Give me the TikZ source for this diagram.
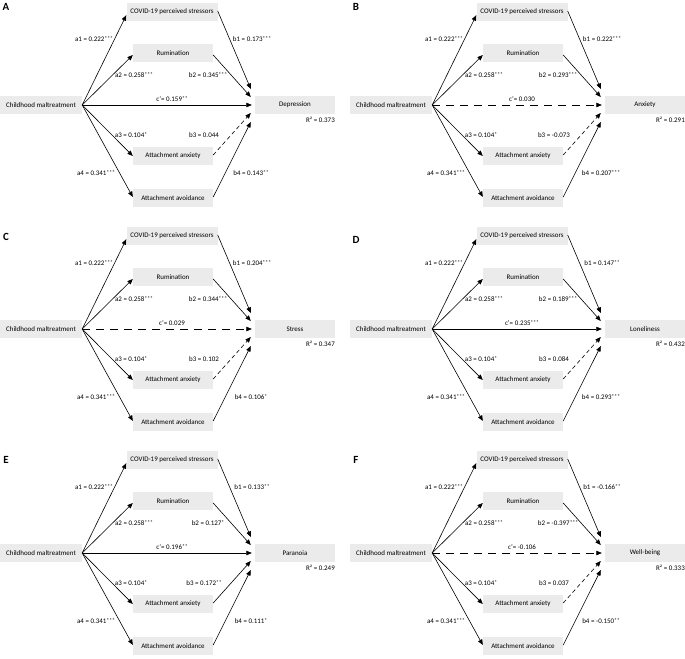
\documentclass[tikz,border=0pt]{standalone}
\usepackage{fontspec}
\setmainfont{Carlito}
\usetikzlibrary{arrows.meta}
\definecolor{boxgray}{RGB}{235,235,235}
\newcommand{\st}[1]{\raisebox{0.35ex}{\fontsize{5.6}{6}\selectfont #1}}

\tikzset{
  varbox/.style={fill=boxgray, inner sep=0pt, minimum height=18bp, minimum width=80bp, font=\fontsize{7}{8}\selectfont},
  coef/.style={inner sep=0pt, font=\fontsize{7}{8}\selectfont},
  panellbl/.style={inner sep=0pt, font=\fontsize{11}{12}\selectfont\bfseries},
  effect/.style={-{Triangle[length=5.5bp,width=4.5bp]}, line width=0.6bp},
  sigpath/.style={effect},
  nsdirect/.style={effect, dash pattern=on 8bp off 6bp},
  nsindirect/.style={effect, dash pattern=on 4bp off 3bp},
}

\begin{document}
\begin{tikzpicture}[x=1bp,y=-1bp]
\useasboundingbox (0,0) rectangle (685,659);
\foreach \offx/\offy/\lety/\lbl/\outc/\bone/\btwo/\bthree/\bfour/\cval/\rsq/\cst/\bst in {
  0/0/7/A/Depression/{0.173\st{***}}/{0.345\st{***}}/{0.044}/{0.143\st{**}}/{0.159\st{**}}/0.373/sigpath/nsindirect,
  350/0/7/B/Anxiety/{0.222\st{***}}/{0.293\st{***}}/{-0.073}/{0.207\st{***}}/{0.030}/0.291/nsdirect/nsindirect,
  0/224/13/C/Stress/{0.204\st{***}}/{0.344\st{***}}/{0.102}/{0.106\st{*}}/{0.029}/0.347/nsdirect/nsindirect,
  350/224/16/D/Loneliness/{0.147\st{**}}/{0.189\st{***}}/{0.084}/{0.293\st{***}}/{0.235\st{***}}/0.432/sigpath/nsindirect,
  0/448/12/E/Paranoia/{0.133\st{**}}/{0.127\st{*}}/{0.172\st{**}}/{0.111\st{*}}/{0.196\st{**}}/0.249/sigpath/sigpath,
  350/448/12/F/Well-being/{-0.166\st{**}}/{-0.397\st{***}}/{0.037}/{-0.150\st{**}}/{-0.106}/0.333/nsdirect/nsindirect%
}{
\begin{scope}[shift={(\offx,\offy)}]
% boxes
\node[panellbl] (lbl\lbl) at (6,\lety) {\lbl};
\node[varbox, minimum width=91bp] (cov\lbl) at (172,12) {COVID-19 perceived stressors};
\node[varbox] (rum\lbl) at (173,53) {Rumination};
\node[varbox, minimum width=82bp] (cm\lbl) at (41,105) {Childhood maltreatment};
\node[varbox] (out\lbl) at (295,105) {\outc};
\node[varbox] (anx\lbl) at (173,156) {Attachment anxiety};
\node[varbox] (avd\lbl) at (173,198) {Attachment avoidance};
\node[coef, anchor=east] (rsq\lbl) at (335,120) {R² = \rsq};
% paths
\draw[sigpath] (cm\lbl.east) -- ([yshift=6bp]cov\lbl.south west);
\draw[sigpath] (cm\lbl.east) -- ([yshift=-2bp]rum\lbl.west);
\draw[sigpath] (cm\lbl.east) -- (anx\lbl.west);
\draw[sigpath] (cm\lbl.east) -- ([yshift=1bp]avd\lbl.west);
\draw[\cst] (cm\lbl.east) -- ([xshift=-3bp]out\lbl.west);
\draw[sigpath] ([yshift=1bp]cov\lbl.east) -- ([xshift=-4bp,yshift=16bp]out\lbl.west);
\draw[sigpath] ([yshift=-2bp]rum\lbl.east) -- ([xshift=-4bp,yshift=8bp]out\lbl.west);
\draw[\bst] ([yshift=1bp]anx\lbl.east) -- ([xshift=-4bp,yshift=-8bp]out\lbl.west);
\draw[sigpath] ([yshift=1bp]avd\lbl.east) -- ([xshift=-4bp,yshift=-17bp]out\lbl.west);
% coefficients
\node[coef] (aone\lbl) at (94,39) {a1 = 0.222\st{***}};
\node[coef] (atwo\lbl) at (134,75) {a2 = 0.258\st{***}};
\node[coef] (athree\lbl) at (131,135) {a3 = 0.104\st{*}};
\node[coef] (afour\lbl) at (96,173) {a4 = 0.341\st{***}};
\node[coef] (bone\lbl) at (252,39) {b1 = \bone};
\node[coef] (btwo\lbl) at (208,75) {b2 = \btwo};
\node[coef] (bthree\lbl) at (204,135) {b3 = \bthree};
\node[coef] (bfour\lbl) at (251,173) {b4 = \bfour};
\node[coef] (cprime\lbl) at (172,99) {c'= \cval};
\end{scope}
}
\end{tikzpicture}
\end{document}
